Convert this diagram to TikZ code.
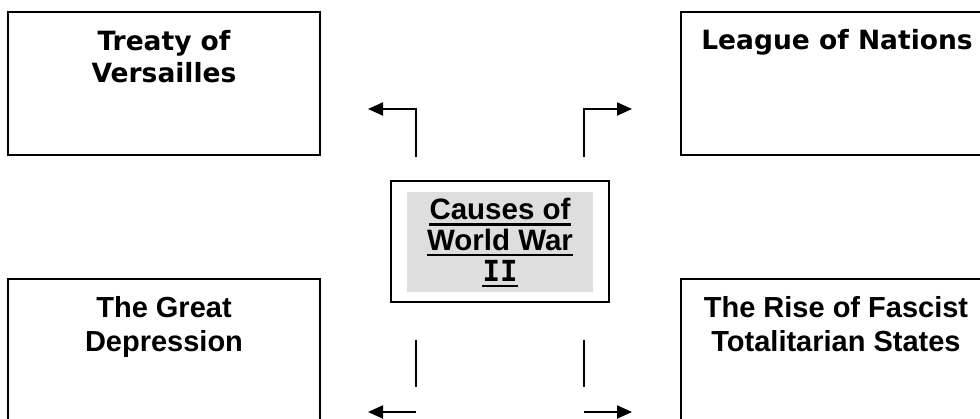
\documentclass[tikz,border=0pt]{standalone}
\usepackage{fontspec}
\setmainfont{Liberation Sans}
\newfontfamily\verd{DejaVu Sans}
\newfontfamily\verdmono{DejaVu Sans Mono}
\usetikzlibrary{arrows.meta}
\definecolor{cgray}{HTML}{DEDEDE}
\begin{document}
\begin{tikzpicture}[x=1pt,y=-1pt,
  box/.style={draw=black,line width=2pt,fill=none},
  vtxt/.style={inner sep=0pt,anchor=base,font=\verd\bfseries\fontsize{26.5}{30}\selectfont},
  atxt/.style={inner sep=0pt,anchor=base,font=\bfseries\fontsize{29}{33}\selectfont},
  ctxt/.style={inner sep=0pt,anchor=base,font=\bfseries\fontsize{29.5}{31}\selectfont},
  ul/.style={line width=2.4pt},
  arr/.style={line width=2pt,-{Triangle[length=15pt,width=13pt]}},
  ln/.style={line width=2pt}]
\useasboundingbox (0,0) rectangle (980,419);
% boxes
\draw[box] (8,12) rectangle (320,155);
\draw[box] (681,12) rectangle (995,155);
\draw[box] (8,279) rectangle (320,440);
\draw[box] (681,279) rectangle (995,440);
% center box
\draw[box] (391,181) rectangle (609,302);
\fill[fill=cgray] (407,192) rectangle (593,292);
% texts
\node[vtxt] (tl1) at (164,51) {Treaty of};
\node[vtxt] (tl2) at (164,83) {Versailles};
\node[vtxt] (tr1) at (837,50) {League of Nations};
\node[atxt] (bl1) at (164,318) {The Great};
\node[atxt] (bl2) at (164,351.5) {Depression};
\node[atxt] (br1) at (836,318) {The Rise of Fascist};
\node[atxt] (br2) at (836,351.5) {Totalitarian States};
\node[ctxt] (c1) at (500,220) {Causes of};
\node[ctxt] (c2) at (500,250.5) {World War};
\node[ctxt,font=\verdmono\bfseries\fontsize{29}{31}\selectfont] (c3) at (500,281.5) {II};
\draw[ul] ([yshift=-4.5pt]c1.base west) -- ([yshift=-4.5pt]c1.base east);
\draw[ul] ([yshift=-4.5pt]c2.base west) -- ([yshift=-4.5pt]c2.base east);
\draw[ul] ([yshift=-4.5pt]c3.base west) -- ([yshift=-4.5pt]c3.base east);
% arrows
\coordinate (a1s) at (416,157);
\coordinate (a1e) at (368,109);
\coordinate (a2s) at (584,157);
\coordinate (a2e) at (632,109);
\draw[arr] (a1s) |- (a1e);
\draw[arr] (a2s) |- (a2e);
\coordinate (l1a) at (416,340);
\coordinate (l1b) at (416,387);
\coordinate (l2a) at (584,340);
\coordinate (l2b) at (584,387);
\draw[ln] (l1a) -- (l1b);
\draw[ln] (l2a) -- (l2b);
\coordinate (b1s) at (416,412);
\coordinate (b1e) at (368,412);
\coordinate (b2s) at (584,412);
\coordinate (b2e) at (632,412);
\draw[arr] (b1s) -- (b1e);
\draw[arr] (b2s) -- (b2e);
\end{tikzpicture}
\end{document}
